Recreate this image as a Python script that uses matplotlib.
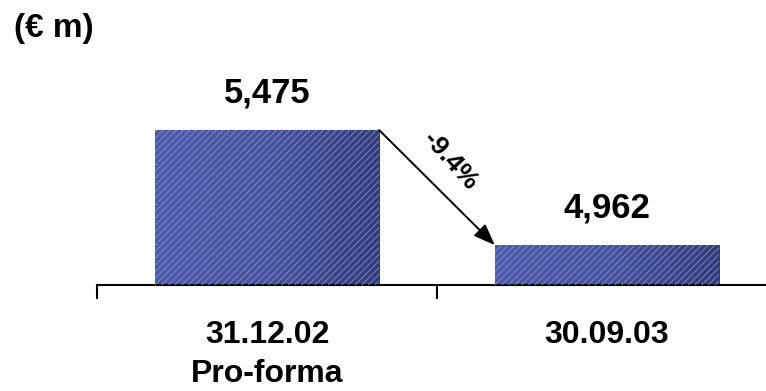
import numpy as np
import matplotlib.pyplot as plt
from matplotlib.colors import LinearSegmentedColormap

plt.rcParams['font.family'] = ['Liberation Sans', 'DejaVu Sans']
plt.rcParams['hatch.linewidth'] = 0.6

# data
categories = ['31.12.02\nPro-forma', '30.09.03']
values = [5475, 4962]
value_labels = ['5,475', '4,962']
change_label = '-9.4%'

fig = plt.figure(figsize=(7.66, 3.91), dpi=100)
W, H = 766, 391
# axes spans x 97..777 px, y baseline 285 px .. top 60 px
ax = fig.add_axes([97 / W, (H - 285) / H, 680 / W, 225 / H])
ymin = 4784
upp = 513 / 115  # data units per pixel
ax.set_xlim(0, 2)
ax.set_ylim(ymin, ymin + 225 * upp)

x = np.arange(len(values)) + 0.5
bw = 0.66
cmap = LinearSegmentedColormap.from_list('bl', ['#4d5ba9', '#46539e', '#323c78'])
grad = np.linspace(0, 1, 256).reshape(1, -1)
bars = ax.bar(x, np.array(values) - ymin, bottom=ymin, width=bw,
              color='none', edgecolor='#8090d0', hatch='/////', linewidth=0, zorder=3)
for b in bars:
    x0, y0 = b.get_x(), b.get_y()
    im = ax.imshow(grad, cmap=cmap, aspect='auto', zorder=2,
                   extent=[x0, x0 + b.get_width(), y0, y0 + b.get_height()])
    im.set_clip_path(b)
ax.set_xlim(0, 2)
ax.set_ylim(ymin, ymin + 225 * upp)

for xi, v, lab in zip(x, values, value_labels):
    ax.text(xi, v + 21 * upp, lab, ha='center', va='bottom', fontsize=25, fontweight='bold')

# arrow from top-right of bar 1 to top-left of bar 2
ax.annotate('', xy=(x[1] - bw / 2, values[1]), xytext=(x[0] + bw / 2, values[0]),
            arrowprops=dict(arrowstyle='-|>,head_length=1.3,head_width=0.5',
                            color='black', lw=1.4, shrinkA=0, shrinkB=0), zorder=5)
ax.text((450 - 97) / 340, ymin + (285 - 161) * upp, change_label, rotation=-48,
        ha='center', va='center', fontsize=19, fontweight='bold')

for s in ['top', 'right', 'left']:
    ax.spines[s].set_visible(False)
ax.spines['bottom'].set_linewidth(1.5)
ax.set_yticks([])
ax.set_xticks([0, 1, 2])
ax.set_xticklabels([])
ax.tick_params(axis='x', direction='out', length=10, width=1.5)
for xi, c in zip(x, categories):
    ax.text(xi, ymin - 35 * upp, c, ha='center', va='top', fontsize=23,
            fontweight='bold', linespacing=1.4)

fig.text(14 / W, 1 - 29 / H, '(€ m)', ha='left', va='center', fontsize=24, fontweight='bold')

fig.savefig('out.png', dpi=100)
